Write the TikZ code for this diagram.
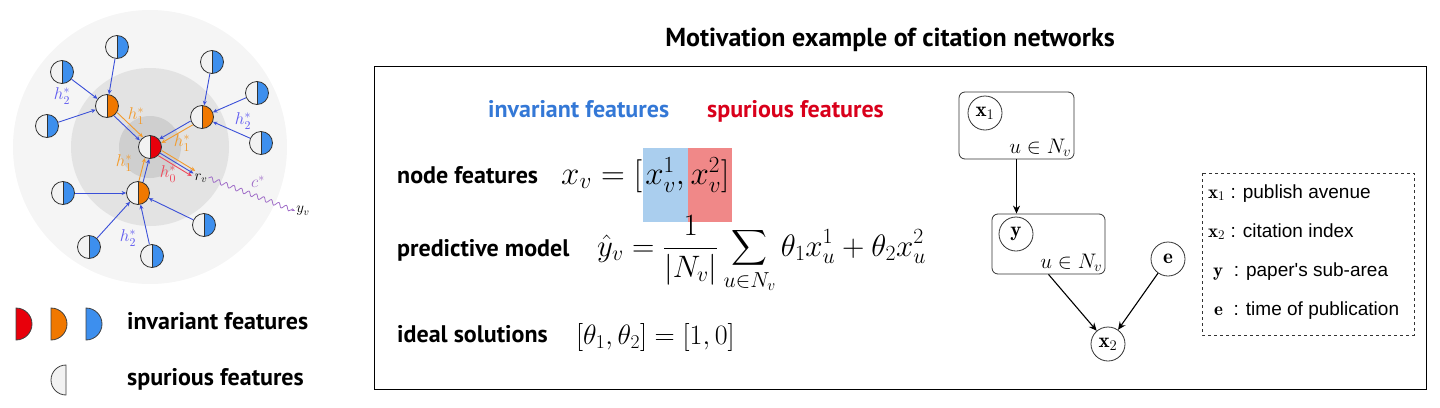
\documentclass[tikz,border=0pt]{standalone}
\usepackage{fix-cm}
\usepackage{amsmath}
\usepackage{fontspec}
\newfontfamily\dinfont{PT Sans}
\newfontfamily\helvfont{Liberation Sans}
\usetikzlibrary{arrows.meta, positioning, calc, decorations.pathmorphing}
\definecolor{invred}{RGB}{232, 0, 11}
\definecolor{invorange}{RGB}{240, 120, 0}
\definecolor{invblue}{RGB}{61, 143, 238}
\definecolor{spurgray}{RGB}{242, 242, 242}
\definecolor{arrblue}{RGB}{58, 79, 216}
\definecolor{arrorange}{RGB}{243, 154, 42}
\definecolor{arrred}{RGB}{240, 72, 90}
\definecolor{htwo}{RGB}{95, 90, 240}
\definecolor{cpurple}{RGB}{160, 110, 200}
\definecolor{txtblue}{RGB}{52, 120, 214}
\definecolor{txtred}{RGB}{217, 0, 27}
\definecolor{hlblue}{RGB}{170, 206, 238}
\definecolor{hlred}{RGB}{240, 136, 136}

\begin{document}
\begin{tikzpicture}[
    x=1pt, y=-1pt,
    lbl/.style={font=\dinfont\bfseries\fontsize{24}{28}\selectfont, inner sep=0},
    mth/.style={inner sep=0, font=\fontsize{#1}{#1}\selectfont},
    feat/.style={circle, draw=black!80, thick, minimum size=23, inner sep=0, fill=spurgray,
        path picture={\fill[#1] (path picture bounding box.north) rectangle (path picture bounding box.south east);
            \draw[black!80, thick] (path picture bounding box.north) -- (path picture bounding box.south);}},
    hlab/.style={inner sep=0, font=\fontsize{17}{19}\selectfont},
    barrow/.style={-{Stealth[length=4.5pt, width=4pt]}, arrblue, line width=0.9pt},
    oarrow/.style={-{Stealth[length=4.5pt, width=4pt]}, arrorange, line width=0.9pt},
    rarrow/.style={-{Stealth[length=4.5pt, width=4pt]}, arrred, line width=0.9pt},
    plate/.style={rectangle, draw=black!80, rounded corners=6pt, line width=0.8pt},
    var/.style={circle, draw=black!80, line width=0.8pt, minimum size=34, inner sep=0, font=\fontsize{21}{21}\selectfont},
    arrow/.style={-{Stealth[length=8pt, width=7pt]}, line width=1.1pt},
    legtxt/.style={inner sep=0, font=\helvfont\fontsize{19}{22}\selectfont}
]
\useasboundingbox (0,0) rectangle (1440,407);

% neighbourhood rings
\fill[black!4] (150,147) circle (137pt);
\fill[black!11] (150,147) circle (79pt);
\fill[black!19] (150,147) circle (31pt);

% nodes of the graph
\node[feat=invred] (ctr) at (150,147) {};
\node[feat=invorange] (o1) at (107,106) {};
\node[feat=invorange] (o2) at (202,117) {};
\node[feat=invorange] (o3) at (138,193) {};
\node[feat=invblue] (b1) at (117,47) {};
\node[feat=invblue] (b2) at (62,72) {};
\node[feat=invblue] (b3) at (47,126) {};
\node[feat=invblue] (b4) at (212,62) {};
\node[feat=invblue] (b5) at (257,93) {};
\node[feat=invblue] (b6) at (261,143) {};
\node[feat=invblue] (b7) at (63,193) {};
\node[feat=invblue] (b8) at (89,247) {};
\node[feat=invblue] (b9) at (152,256) {};
\node[feat=invblue] (b10) at (204,225) {};
\node[inner sep=1pt, font=\fontsize{15}{15}\selectfont] (rv) at (201,178) {$r_v$};
\node[inner sep=1pt, font=\fontsize{15}{15}\selectfont] (yv) at (303,211) {$y_v$};

% second hop
\draw[barrow] (b1) -- (o1);
\draw[barrow] (b2) -- (o1);
\draw[barrow] (b3) -- (o1);
\draw[barrow] (b4) -- (o2);
\draw[barrow] (b5) -- (o2);
\draw[barrow] (b6) -- (o2);
\draw[barrow] (b7) -- (o3);
\draw[barrow] (b8) -- (o3);
\draw[barrow] (b9) -- (o3);
\draw[barrow] (b10) -- (o3);

% first hop
\draw[barrow, transform canvas={shift={(-1.6,1.6)}}] (o1) -- (ctr);
\draw[oarrow, transform canvas={shift={(1.6,-1.6)}}] (o1) -- (ctr);
\draw[barrow, transform canvas={shift={(-1.1,-1.9)}}] (o2) -- (ctr);
\draw[oarrow, transform canvas={shift={(1.1,1.9)}}] (o2) -- (ctr);
\draw[barrow, transform canvas={shift={(2.1,0.5)}}] (o3) -- (ctr);
\draw[oarrow, transform canvas={shift={(-2.1,-0.5)}}] (o3) -- (ctr);

% readout
\draw[oarrow, transform canvas={shift={(1.7,-2.6)}}] (ctr) -- (rv);
\draw[barrow] (ctr) -- (rv);
\draw[rarrow, transform canvas={shift={(-1.7,2.6)}}] (ctr) -- (rv);
\draw[cpurple, line width=0.8pt, decorate, decoration={snake, amplitude=2.2pt, segment length=8pt}, -{Stealth[length=4pt]}] (rv.east) -- (yv.west);

\node[hlab, text=htwo] (h2a) at (62,96) {$h_2^*$};
\node[hlab, text=htwo] (h2b) at (243,121) {$h_2^*$};
\node[hlab, text=htwo] (h2c) at (128,238) {$h_2^*$};
\node[hlab, text=arrorange] (h1a) at (136,116) {$h_1^*$};
\node[hlab, text=arrorange] (h1b) at (182,143) {$h_1^*$};
\node[hlab, text=arrorange] (h1c) at (124,163) {$h_1^*$};
\node[hlab, text=arrred] (h0) at (168,174) {$h_0^*$};
\node[hlab, text=cpurple] (cstar) at (258,182) {$c^*$};

% legend of the graph
\filldraw[fill=invred, draw=black!75, line width=0.8pt] (16,308) arc[start angle=90, end angle=-90, radius=16pt] -- cycle;
\filldraw[fill=invorange, draw=black!75, line width=0.8pt] (51,308) arc[start angle=90, end angle=-90, radius=16pt] -- cycle;
\filldraw[fill=invblue, draw=black!75, line width=0.8pt] (86,308) arc[start angle=90, end angle=-90, radius=16pt] -- cycle;
\filldraw[fill=spurgray, draw=black!75, line width=0.8pt] (66,365) arc[start angle=90, end angle=270, radius=15pt] -- cycle;
\node[lbl, anchor=base west] (leginv) at (127,329) {invariant features};
\node[lbl, anchor=base west] (legspur) at (127,385) {spurious features};

% citation network example
\node[lbl, font=\dinfont\bfseries\fontsize{26}{30}\selectfont, anchor=base] (title) at (890,46) {Motivation example of citation networks};
\draw[line width=0.9pt] (374,66) rectangle (1426,389);

\node[lbl, anchor=base west, text=txtblue] (invtxt) at (488,117) {invariant features};
\node[lbl, anchor=base west, text=txtred] (spurtxt) at (707,117) {spurious features};

\node[lbl, anchor=base west] (nflbl) at (397,183) {node features};
\node[mth=33, anchor=base west] (nfa) at (561,184) {$x_v = [$};
\node[mth=33, anchor=base west, fill=hlblue, minimum width=45, minimum height=74, text depth=29] (nfb) at (nfa.base east) {$x^1_v,$};
\node[mth=33, anchor=base west, fill=hlred, minimum width=44, minimum height=74, text depth=29] (nfc) at (nfb.base east) {$x^2_v]$};

\node[lbl, anchor=base west] (pmlbl) at (397,256) {predictive model};
\node[mth=31, anchor=base west] (pmeq) at (597,256) {$\displaystyle \hat{y}_v = \frac{1}{|N_v|}\sum_{u\in N_v} \theta_1 x^1_u + \theta_2 x^2_u$};

\node[lbl, anchor=base west] (islbl) at (397,342) {ideal solutions};
\node[mth=28, anchor=base west] (iseq) at (576,344) {$[\theta_1, \theta_2] = [1, 0]$};

% graphical model
\node[plate, minimum width=115, minimum height=67] (p1) at (1016.5,125.5) {};
\node[plate, minimum width=113, minimum height=60] (p2) at (1048.5,244) {};
\node[var] (x1) at (985,113) {$\mathbf{x}_1$};
\node[var] (y) at (1016,234) {$\mathbf{y}$};
\node[var] (e) at (1168,259) {$\mathbf{e}$};
\node[var] (x2) at (1108,344) {$\mathbf{x}_2$};
\node[anchor=south east, inner sep=3pt, font=\fontsize{21}{21}\selectfont] (n1) at (p1.south east) {$u\in N_v$};
\node[anchor=south east, inner sep=3pt, font=\fontsize{21}{21}\selectfont] (n2) at (p2.south east) {$u\in N_v$};
\draw[arrow] (p1.south) -- (p1.south |- p2.north);
\draw[arrow] (p2.south) -- (x2);
\draw[arrow] (e) -- (x2);

% legend of the variables
\draw[dashed, line width=0.8pt, black!80] (1202,173) rectangle (1414,335);
\node[legtxt, anchor=base west] (lx1) at (1208,198) {$\mathbf{x}_1$ : publish avenue};
\node[legtxt, anchor=base west] (lx2) at (1208,237) {$\mathbf{x}_2$ : citation index};
\node[legtxt, anchor=base west] (ly) at (1213,276) {$\mathbf{y}$\ \ : paper's sub-area};
\node[legtxt, anchor=base west] (le) at (1214,315) {$\mathbf{e}$\ \ : time of publication};
\end{tikzpicture}
\end{document}
